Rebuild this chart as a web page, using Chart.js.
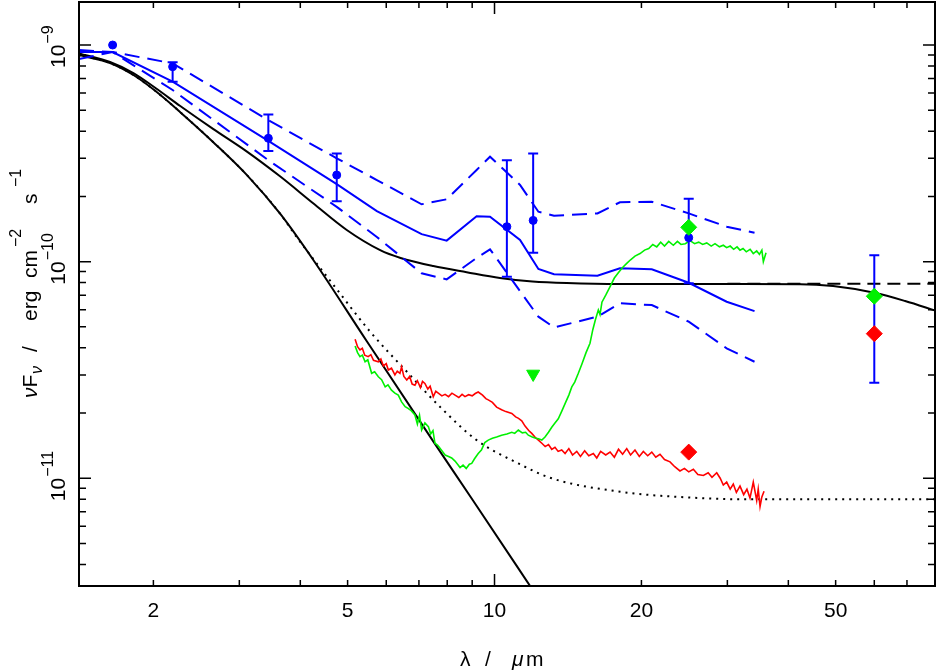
<!DOCTYPE html>
<html>
<head>
<meta charset="utf-8">
<script src="https://cdn.jsdelivr.net/npm/chart.js@4.4.1/dist/chart.umd.min.js"></script>
<style>
  html, body { margin: 0; padding: 0; background: #fff; }
  #sed { display: block; }
</style>
</head>
<body>
<canvas id="sed" width="936" height="672"></canvas>
<script>
// wavelengths in micron, fluxes nuFnu in erg cm^-2 s^-1

// model (blue): median and envelope
const modelWave = [1.408, 1.65, 2.19, 3.44, 4.75, 5.74, 7.09, 7.98, 9.19, 9.79, 11.28, 12.3, 13.24, 16.25, 18.07, 21.0, 25.0, 29.9, 34.1];
const modelMid  = [9.28e-10, 9.28e-10, 6.77e-10, 3.61e-10, 2.28e-10, 1.71e-10, 1.34e-10, 1.25e-10, 1.62e-10, 1.61e-10, 1.26e-10, 9.25e-11, 8.74e-11, 8.61e-11, 9.31e-11, 9.21e-11, 7.99e-11, 6.53e-11, 5.91e-11];
const modelHigh = [9.48e-10, 9.28e-10, 8.23e-10, 4.50e-10, 3.00e-10, 2.38e-10, 1.84e-10, 1.94e-10, 2.65e-10, 3.05e-10, 2.26e-10, 1.70e-10, 1.63e-10, 1.67e-10, 1.88e-10, 1.89e-10, 1.67e-10, 1.45e-10, 1.36e-10];
const modelLow  = [8.62e-10, 9.28e-10, 6.20e-10, 2.94e-10, 1.79e-10, 1.30e-10, 8.83e-11, 8.28e-11, 1.04e-10, 1.14e-10, 7.31e-11, 5.57e-11, 4.97e-11, 5.57e-11, 6.42e-11, 6.30e-11, 5.28e-11, 3.98e-11, 3.45e-11];

// photometry with error bars (blue)
const photWave = [1.65, 2.19, 3.44, 4.75, 10.6, 12.0, 25.0, 60.0];
const photFlux = [1.0e-9, 7.94e-10, 3.71e-10, 2.51e-10, 1.45e-10, 1.55e-10, 1.29e-10, 6.92e-11];
const photHigh = [null, 8.32e-10, 4.78e-10, 3.16e-10, 2.94e-10, 3.16e-10, 1.95e-10, 1.07e-10];
const photLow  = [null, 6.77e-10, 3.24e-10, 1.90e-10, 8.51e-11, 1.10e-10, 7.94e-11, 2.76e-11];

// IRAS-like points
const greenDiaWave = [25.0, 60.0];
const greenDiaFlux = [1.44e-10, 6.92e-11];
const redDiaWave = [25.0, 60.0];
const redDiaFlux = [1.32e-11, 4.65e-11];
const limitWave = [12.0];
const limitFlux = [3.03e-11];

// black curves
const totalWave = [1.408, 1.63, 1.82, 2.02, 2.27, 2.65, 3.11, 3.64, 4.25, 4.98, 5.83, 6.42, 7.49, 8.77, 10.26, 11.96, 14.06, 18.1, 26.4, 42.3, 49.4, 60.0, 69.4, 80.3];
const totalFlux = [9.15e-10, 8.35e-10, 7.42e-10, 6.33e-10, 5.23e-10, 4.10e-10, 3.22e-10, 2.47e-10, 1.86e-10, 1.40e-10, 1.13e-10, 1.04e-10, 9.54e-11, 8.93e-11, 8.40e-11, 8.10e-11, 7.96e-11, 7.88e-11, 7.88e-11, 7.87e-11, 7.71e-11, 7.18e-11, 6.58e-11, 5.93e-11];
const starWave = [1.408, 1.63, 1.82, 2.02, 2.27, 2.65, 3.11, 3.64, 4.25, 5.47, 7.49, 9.05, 12.4];
const starFlux = [8.99e-10, 8.26e-10, 7.27e-10, 6.13e-10, 4.90e-10, 3.57e-10, 2.51e-10, 1.66e-10, 1.02e-10, 4.30e-11, 1.48e-11, 7.85e-12, 2.71e-12];
const dottedWave = [1.408, 1.63, 1.82, 2.02, 2.27, 2.65, 3.11, 3.64, 3.93, 4.25, 4.67, 5.56, 6.66, 7.79, 9.19, 11.19, 13.1, 18.1, 24.0, 32.9, 80.0];
const dottedFlux = [8.99e-10, 8.26e-10, 7.27e-10, 6.13e-10, 4.90e-10, 3.57e-10, 2.51e-10, 1.66e-10, 1.30e-10, 1.03e-10, 7.84e-11, 4.75e-11, 3.05e-11, 2.10e-11, 1.50e-11, 1.17e-11, 9.99e-12, 8.66e-12, 8.19e-12, 7.99e-12, 7.99e-12];
const dashWave = [30.0, 80.0];
const dashFlux = [7.9e-11, 7.9e-11];

// spectra
const redWave = [5.18, 5.24, 5.30, 5.36, 5.42, 5.51, 5.58, 5.65, 5.78, 5.85, 5.92, 6.00, 6.06, 6.15, 6.25, 6.32, 6.40, 6.45, 6.52, 6.61, 6.70, 6.78, 6.87, 6.95, 7.05, 7.12, 7.20, 7.30, 7.38, 7.49, 7.58, 7.67, 7.80, 7.92, 8.05, 8.18, 8.30, 8.45, 8.58, 8.70, 8.85, 9.00, 9.13, 9.26, 9.45, 9.60, 9.71, 9.90, 10.10, 10.34, 10.55, 10.85, 11.05, 11.20, 11.37, 11.55, 11.75, 11.92, 12.10, 12.30, 12.50, 12.70, 12.90, 13.10, 13.30, 13.50, 13.73, 13.95, 14.20, 14.45, 14.74, 15.00, 15.30, 15.60, 15.94, 16.20, 16.50, 16.90, 17.25, 17.60, 17.95, 18.30, 18.66, 19.00, 19.40, 19.80, 20.18, 20.60, 21.00, 21.40, 21.83, 22.30, 22.89, 23.40, 23.99, 24.50, 25.00, 25.55, 26.10, 26.79, 27.40, 27.90, 28.53, 29.00, 29.43, 29.90, 30.40, 30.85, 31.30, 31.84, 32.40, 32.90, 33.38, 33.90, 34.45, 34.70, 35.00, 35.30, 35.67];
const redFlux = [4.38e-11, 4.05e-11, 3.91e-11, 3.98e-11, 3.70e-11, 3.64e-11, 3.72e-11, 3.50e-11, 3.45e-11, 3.55e-11, 3.30e-11, 3.38e-11, 3.16e-11, 3.22e-11, 3.00e-11, 3.12e-11, 3.05e-11, 3.27e-11, 2.95e-11, 2.84e-11, 2.95e-11, 2.72e-11, 2.69e-11, 2.82e-11, 2.62e-11, 2.80e-11, 2.74e-11, 2.58e-11, 2.66e-11, 2.38e-11, 2.52e-11, 2.47e-11, 2.40e-11, 2.44e-11, 2.38e-11, 2.47e-11, 2.42e-11, 2.36e-11, 2.44e-11, 2.38e-11, 2.43e-11, 2.40e-11, 2.46e-11, 2.50e-11, 2.42e-11, 2.33e-11, 2.30e-11, 2.24e-11, 2.13e-11, 2.07e-11, 2.03e-11, 1.99e-11, 1.92e-11, 1.89e-11, 1.84e-11, 1.74e-11, 1.66e-11, 1.61e-11, 1.55e-11, 1.50e-11, 1.45e-11, 1.40e-11, 1.43e-11, 1.36e-11, 1.39e-11, 1.33e-11, 1.35e-11, 1.30e-11, 1.37e-11, 1.28e-11, 1.33e-11, 1.26e-11, 1.34e-11, 1.27e-11, 1.30e-11, 1.24e-11, 1.33e-11, 1.28e-11, 1.32e-11, 1.25e-11, 1.36e-11, 1.29e-11, 1.37e-11, 1.28e-11, 1.35e-11, 1.26e-11, 1.33e-11, 1.27e-11, 1.32e-11, 1.25e-11, 1.29e-11, 1.22e-11, 1.19e-11, 1.13e-11, 1.08e-11, 1.11e-11, 1.07e-11, 1.10e-11, 1.04e-11, 1.03e-11, 1.06e-11, 1.01e-11, 1.06e-11, 1.00e-11, 9.30e-12, 9.60e-12, 8.90e-12, 9.40e-12, 8.60e-12, 9.20e-12, 8.40e-12, 8.90e-12, 8.10e-12, 9.60e-12, 7.90e-12, 8.90e-12, 7.40e-12, 8.20e-12, 8.70e-12];
const greenWave = [5.18, 5.24, 5.30, 5.36, 5.43, 5.50, 5.60, 5.68, 5.78, 5.87, 5.97, 6.05, 6.15, 6.25, 6.35, 6.45, 6.56, 6.65, 6.75, 6.87, 6.95, 7.02, 7.09, 7.20, 7.32, 7.40, 7.48, 7.55, 7.65, 7.78, 7.92, 8.05, 8.17, 8.30, 8.40, 8.50, 8.62, 8.75, 8.88, 8.98, 9.10, 9.26, 9.40, 9.55, 9.71, 9.90, 10.10, 10.34, 10.60, 10.85, 11.00, 11.19, 11.40, 11.58, 11.73, 11.95, 12.15, 12.30, 12.50, 12.69, 12.90, 13.10, 13.30, 13.51, 13.75, 14.00, 14.20, 14.40, 14.60, 14.85, 15.09, 15.40, 15.69, 15.90, 16.10, 16.32, 16.45, 16.60, 16.90, 17.25, 17.60, 17.95, 18.30, 18.66, 19.00, 19.40, 19.87, 20.30, 20.70, 21.10, 21.50, 21.90, 22.30, 22.75, 23.25, 23.70, 24.10, 24.60, 25.15, 25.70, 26.20, 26.70, 27.22, 27.80, 28.30, 28.90, 29.43, 29.90, 30.40, 30.90, 31.40, 31.84, 32.30, 32.80, 33.40, 33.90, 34.45, 34.90, 35.30, 35.55, 36.00];
const greenFlux = [4.08e-11, 3.80e-11, 3.64e-11, 3.70e-11, 3.45e-11, 3.52e-11, 3.05e-11, 3.10e-11, 2.94e-11, 2.85e-11, 2.64e-11, 2.70e-11, 2.55e-11, 2.47e-11, 2.42e-11, 2.25e-11, 2.14e-11, 2.10e-11, 2.05e-11, 1.96e-11, 1.78e-11, 1.95e-11, 1.67e-11, 1.80e-11, 1.73e-11, 1.60e-11, 1.66e-11, 1.45e-11, 1.42e-11, 1.35e-11, 1.28e-11, 1.26e-11, 1.24e-11, 1.20e-11, 1.16e-11, 1.12e-11, 1.15e-11, 1.11e-11, 1.16e-11, 1.17e-11, 1.23e-11, 1.30e-11, 1.35e-11, 1.46e-11, 1.50e-11, 1.53e-11, 1.55e-11, 1.58e-11, 1.60e-11, 1.63e-11, 1.61e-11, 1.67e-11, 1.62e-11, 1.63e-11, 1.58e-11, 1.55e-11, 1.53e-11, 1.52e-11, 1.50e-11, 1.55e-11, 1.63e-11, 1.72e-11, 1.80e-11, 1.88e-11, 2.05e-11, 2.25e-11, 2.42e-11, 2.64e-11, 2.78e-11, 3.05e-11, 3.35e-11, 3.80e-11, 4.20e-11, 4.85e-11, 5.40e-11, 5.98e-11, 5.70e-11, 6.50e-11, 7.00e-11, 7.66e-11, 8.40e-11, 8.90e-11, 9.40e-11, 9.82e-11, 1.02e-10, 1.06e-10, 1.09e-10, 1.13e-10, 1.15e-10, 1.20e-10, 1.17e-10, 1.23e-10, 1.18e-10, 1.24e-10, 1.19e-10, 1.24e-10, 1.20e-10, 1.21e-10, 1.25e-10, 1.21e-10, 1.23e-10, 1.20e-10, 1.22e-10, 1.18e-10, 1.21e-10, 1.17e-10, 1.19e-10, 1.16e-10, 1.18e-10, 1.14e-10, 1.17e-10, 1.13e-10, 1.15e-10, 1.11e-10, 1.14e-10, 1.09e-10, 1.12e-10, 1.08e-10, 1.13e-10, 1.00e-10, 1.10e-10];

// axes
const xTicks = [2, 3, 4, 5, 6, 7, 8, 9, 10, 20, 30, 40, 50, 60, 70];
const xMajor = [10];
const xLabels = [2, 5, 10, 20, 50];
const yTicks = [4e-12, 5e-12, 6e-12, 7e-12, 8e-12, 9e-12, 1e-11, 2e-11, 3e-11, 4e-11, 5e-11, 6e-11, 7e-11, 8e-11, 9e-11, 1e-10, 2e-10, 3e-10, 4e-10, 5e-10, 6e-10, 7e-10, 8e-10, 9e-10, 1e-9];
const yMajor = [1e-11, 1e-10, 1e-9];
const yLabelExp = [-9, -10, -11];

const FONT = '"Liberation Sans", Arial, sans-serif';
const BLUE = '#0000ff';
const RED = '#ff0000';
const GREEN = '#00f000';

function pts(xs, ys) {
    return xs.map((x, i) => ({ x: x, y: ys[i] }));
}

function line(xs, ys, color, width, dash, smooth) {
    return {
        data: pts(xs, ys),
        showLine: true,
        borderColor: color,
        borderWidth: width,
        borderDash: dash || [],
        pointRadius: 0,
        fill: false,
        cubicInterpolationMode: smooth ? 'monotone' : 'default',
        tension: 0
    };
}

function marks(xs, ys, color, style, radius, rotation) {
    return {
        data: pts(xs, ys),
        showLine: false,
        pointStyle: style,
        pointRadius: radius,
        pointRotation: rotation || 0,
        backgroundColor: color,
        borderColor: color,
        borderWidth: 1
    };
}

// bottom first
const datasets = [
    line(dottedWave, dottedFlux, '#000', 2, [2, 5], true),
    line(starWave, starFlux, '#000', 2, null, true),
    line(dashWave, dashFlux, '#000', 2, [13, 7]),
    line(totalWave, totalFlux, '#000', 2, null, true),
    line(modelWave, modelHigh, BLUE, 2, [15, 8]),
    line(modelWave, modelLow, BLUE, 2, [15, 8]),
    line(modelWave, modelMid, BLUE, 2),
    line(redWave, redFlux, RED, 1.6),
    line(greenWave, greenFlux, GREEN, 1.6),
    Object.assign(marks(photWave, photFlux, BLUE, 'circle', 4), { label: 'photometry' }),
    marks(greenDiaWave, greenDiaFlux, GREEN, 'rectRot', 8),
    marks(redDiaWave, redDiaFlux, RED, 'rectRot', 8),
    marks(limitWave, limitFlux, GREEN, 'triangle', 7.5, 180)
];
datasets.forEach((d, i) => { d.order = datasets.length - i; });

// error bars drawn right after the photometry points
const errorBars = {
    id: 'errorBars',
    afterDatasetDraw(chart, args) {
        if (chart.data.datasets[args.index].label !== 'photometry') return;
        const { ctx, scales: { x, y } } = chart;
        ctx.save();
        ctx.strokeStyle = BLUE;
        ctx.lineWidth = 2;
        ctx.beginPath();
        photWave.forEach((w, i) => {
            if (photHigh[i] === null) return;
            const px = x.getPixelForValue(w);
            const top = y.getPixelForValue(photHigh[i]);
            const bot = y.getPixelForValue(photLow[i]);
            ctx.moveTo(px, top); ctx.lineTo(px, bot);
            ctx.moveTo(px - 5, top); ctx.lineTo(px + 5, top);
            ctx.moveTo(px - 5, bot); ctx.lineTo(px + 5, bot);
        });
        ctx.stroke();
        ctx.restore();
    }
};

function upText(ctx, text, font, bx, by) {
    // text reading bottom to top, baseline on screen x = bx, starting at screen y = by
    ctx.save();
    ctx.translate(bx, by);
    ctx.rotate(-Math.PI / 2);
    ctx.font = font;
    ctx.textAlign = 'left';
    ctx.textBaseline = 'alphabetic';
    ctx.fillText(text, 0, 0);
    const w = ctx.measureText(text).width;
    ctx.restore();
    return w;
}

const frame = {
    id: 'frame',
    afterDraw(chart) {
        const { ctx, chartArea: a, scales: { x, y } } = chart;
        ctx.save();
        ctx.strokeStyle = '#000';
        ctx.fillStyle = '#000';
        ctx.lineWidth = 2;
        ctx.strokeRect(a.left, a.top, a.right - a.left, a.bottom - a.top);

        ctx.lineWidth = 1.5;
        ctx.beginPath();
        xTicks.forEach(v => {
            const px = x.getPixelForValue(v);
            const len = xMajor.includes(v) ? 12 : 6;
            ctx.moveTo(px, a.bottom); ctx.lineTo(px, a.bottom - len);
            ctx.moveTo(px, a.top); ctx.lineTo(px, a.top + len);
        });
        yTicks.forEach(v => {
            const py = y.getPixelForValue(v);
            const len = yMajor.includes(v) ? 12 : 7;
            ctx.moveTo(a.left, py); ctx.lineTo(a.left + len, py);
            ctx.moveTo(a.right, py); ctx.lineTo(a.right - len, py);
        });
        ctx.stroke();

        // x tick labels
        ctx.font = '21px ' + FONT;
        ctx.textAlign = 'center';
        ctx.textBaseline = 'alphabetic';
        xLabels.forEach(v => {
            ctx.fillText(String(v), x.getPixelForValue(v), 617);
        });

        // y tick labels, rotated, 10 with superscript exponent
        yLabelExp.forEach(e => {
            const py = y.getPixelForValue(Math.pow(10, e));
            const w = upText(ctx, '10', '21px ' + FONT, 65, py + 23);
            upText(ctx, '\u2212' + (-e), '16px ' + FONT, 53, py + 23 - w - 1);
        });

        // x axis title
        ctx.textAlign = 'left';
        ctx.font = '21px ' + FONT;
        ctx.fillText('\u03bb', 460, 666);
        ctx.fillText('/', 485, 666);
        ctx.font = 'italic 21px ' + FONT;
        ctx.fillText('\u03bc', 512, 666);
        ctx.font = '21px ' + FONT;
        ctx.fillText('m', 526, 666);

        // y axis title
        const wn = upText(ctx, '\u03bd', 'italic 21px ' + FONT, 37, 398);
        upText(ctx, 'F', '21px ' + FONT, 37, 398 - wn);
        upText(ctx, '\u03bd', 'italic 16px ' + FONT, 42, 374);
        upText(ctx, '/', '21px ' + FONT, 37, 352);
        upText(ctx, 'erg', '21px ' + FONT, 37, 321);
        upText(ctx, 'cm', '21px ' + FONT, 37, 278);
        upText(ctx, '\u22122', '16px ' + FONT, 21, 247);
        upText(ctx, 's', '21px ' + FONT, 37, 204);
        upText(ctx, '\u22121', '16px ' + FONT, 21, 187);
        ctx.restore();
    }
};

const ctx = document.getElementById('sed').getContext('2d');
const chart = new Chart(ctx, {
    type: 'scatter',
    data: { datasets: datasets },
    options: {
        responsive: false,
        animation: false,
        devicePixelRatio: 1,
        events: [],
        layout: { autoPadding: false, padding: { left: 79, right: 1, top: 2, bottom: 86 } },
        plugins: {
            legend: { display: false },
            tooltip: { enabled: false }
        },
        scales: {
            x: { type: 'logarithmic', min: 1.408, max: 79.9, display: false },
            y: { type: 'logarithmic', min: 3.18e-12, max: 1.58e-9, display: false }
        }
    },
    plugins: [errorBars, frame]
});
</script>
</body>
</html>
